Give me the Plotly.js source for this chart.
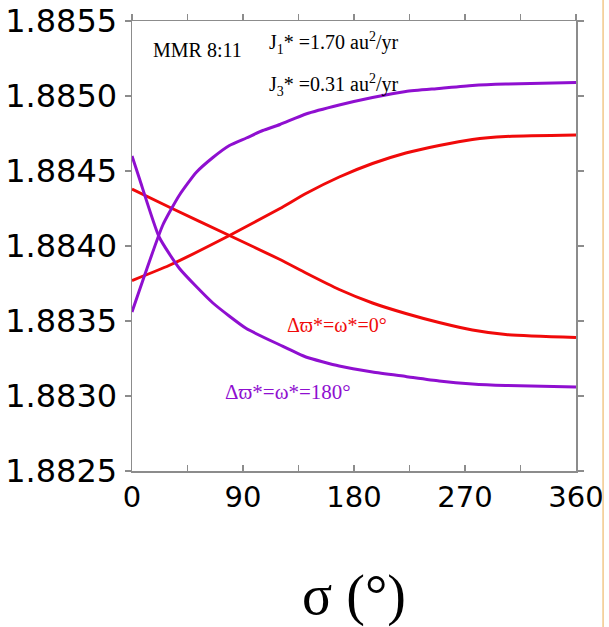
<!DOCTYPE html>
<html>
<head>
<meta charset="utf-8">
<script src="https://cdn.plot.ly/plotly-3.0.1.min.js"></script>
<style>html,body{margin:0;padding:0;background:#fff;}#chart{width:609px;height:627px;}</style>
</head>
<body>
<div id="chart"></div>
<script>
// sigma (deg) and semi-major axis values
const redDownX    = [0, 30, 79, 120, 141, 168, 195, 222, 249, 276, 303, 360];
const redDownY    = [1.88438, 1.88426, 1.88407, 1.88391, 1.88382, 1.88371, 1.88362, 1.88355, 1.88349, 1.88344, 1.88341, 1.88339];
const redUpX      = [0, 30, 79, 120, 141, 168, 195, 222, 249, 276, 303, 360];
const redUpY      = [1.88377, 1.88387, 1.88407, 1.88425, 1.88435, 1.88446, 1.88455, 1.88462, 1.88467, 1.88471, 1.88473, 1.88474];
const purpleDownX = [0, 6, 22, 38.5, 65.6, 92.7, 120, 141, 168, 195, 222, 249, 276, 303, 360];
const purpleDownY = [1.88460, 1.88445, 1.88406, 1.88385, 1.88362, 1.88345, 1.88334, 1.88326, 1.88320, 1.88316, 1.88313, 1.88310, 1.88308, 1.88307, 1.88306];
const purpleUpX   = [0, 25, 38.5, 52, 65.6, 79, 92.7, 106, 120, 141, 168, 195, 222, 249, 276, 303, 360];
const purpleUpY   = [1.88356, 1.88414, 1.88434, 1.88449, 1.88459, 1.88467, 1.88472, 1.88477, 1.88481, 1.88488, 1.88494, 1.88499, 1.88503, 1.88505, 1.88507, 1.88508, 1.88509];

const xTickVals = [0, 90, 180, 270, 360];
const yTickVals = [1.8825, 1.8830, 1.8835, 1.8840, 1.8845, 1.8850, 1.8855];

const RED = '#f00a0a';
const PURPLE = '#8f0fd0';

function line(x, y, color) {
  return {x: x, y: y, type: 'scatter', mode: 'lines',
          line: {color: color, width: 3, shape: 'spline', smoothing: 0.5},
          showlegend: false, hoverinfo: 'skip'};
}

const traces = [
  line(redDownX, redDownY, RED),
  line(redUpX, redUpY, RED),
  line(purpleDownX, purpleDownY, PURPLE),
  line(purpleUpX, purpleUpY, PURPLE),
  {x: [0, 360], y: [1.8825, 1.8825], xaxis: 'x2', yaxis: 'y', mode: 'lines',
   line: {width: 0}, showlegend: false, hoverinfo: 'skip'}
];

const axisGrey = '#8c8c8c';
const serif = 'Liberation Serif, Times New Roman, serif';

const layout = {
  width: 609, height: 627,
  margin: {l: 132, r: 33, t: 21, b: 156},
  paper_bgcolor: '#ffffff', plot_bgcolor: '#ffffff',
  showlegend: false,
  xaxis: {
    range: [0, 360], tickvals: xTickVals, ticktext: xTickVals.map(String),
    ticks: 'inside', ticklen: 6, tickcolor: axisGrey, tickwidth: 1.5,
    minor: {dtick: 45, tick0: 0, ticks: 'inside', ticklen: 6, tickcolor: axisGrey, tickwidth: 1.5},
    showline: true, linecolor: axisGrey, linewidth: 1.5,
    showgrid: false, zeroline: false,
    tickfont: {family: 'DejaVu Sans', size: 29, color: '#000'},
    ticklabelstandoff: 0,
    title: {text: 'σ (°)', font: {family: serif, size: 56, color: '#000'}, standoff: 68}
  },
  xaxis2: {
    overlaying: 'x', side: 'top', matches: 'x', range: [0, 360],
    dtick: 45, tick0: 0, ticks: 'outside', ticklen: 6, tickcolor: axisGrey, tickwidth: 1.5,
    showticklabels: false, showline: true, linecolor: axisGrey, linewidth: 1.5,
    showgrid: false, zeroline: false
  },
  yaxis: {
    range: [1.8825, 1.8855], tickvals: yTickVals, ticktext: yTickVals.map(v => v.toFixed(4)),
    ticks: 'outside', ticklen: 6, tickcolor: axisGrey, tickwidth: 1.5,
    mirror: 'ticks', showline: true, linecolor: axisGrey, linewidth: 1.5,
    showgrid: false, zeroline: false,
    tickfont: {family: 'DejaVu Sans', size: 32, color: '#000'},
    ticklabelstandoff: 1
  },
  annotations: [
    {xref: 'paper', yref: 'paper', x: 0.043, y: 0.935, xanchor: 'left', yanchor: 'middle',
     text: 'MMR 8:11', showarrow: false, font: {family: serif, size: 20, color: '#000'}},
    {xref: 'paper', yref: 'paper', x: 0.305, y: 0.952, xanchor: 'left', yanchor: 'middle',
     text: 'J<sub>1</sub>* =1.70 au<sup>2</sup>/yr', showarrow: false, font: {family: serif, size: 20, color: '#000'}},
    {xref: 'paper', yref: 'paper', x: 0.305, y: 0.858, xanchor: 'left', yanchor: 'middle',
     text: 'J<sub>3</sub>* =0.31 au<sup>2</sup>/yr', showarrow: false, font: {family: serif, size: 20, color: '#000'}},
    {xref: 'paper', yref: 'paper', x: 0.345, y: 0.325, xanchor: 'left', yanchor: 'middle',
     text: 'Δϖ*=ω*=0°', showarrow: false, font: {family: serif, size: 20, color: RED}},
    {xref: 'paper', yref: 'paper', x: 0.205, y: 0.175, xanchor: 'left', yanchor: 'middle',
     text: 'Δϖ*=ω*=180°', showarrow: false, font: {family: serif, size: 21, color: PURPLE}}
  ],
  shapes: [
    {type: 'line', xref: 'paper', yref: 'paper', x0: 1.061, x1: 1.061, y0: -0.35, y1: 1.05,
     line: {color: '#f2c88a', width: 1.5}}
  ]
};

Plotly.newPlot('chart', traces, layout, {staticPlot: true, displayModeBar: false});
</script>
</body>
</html>
